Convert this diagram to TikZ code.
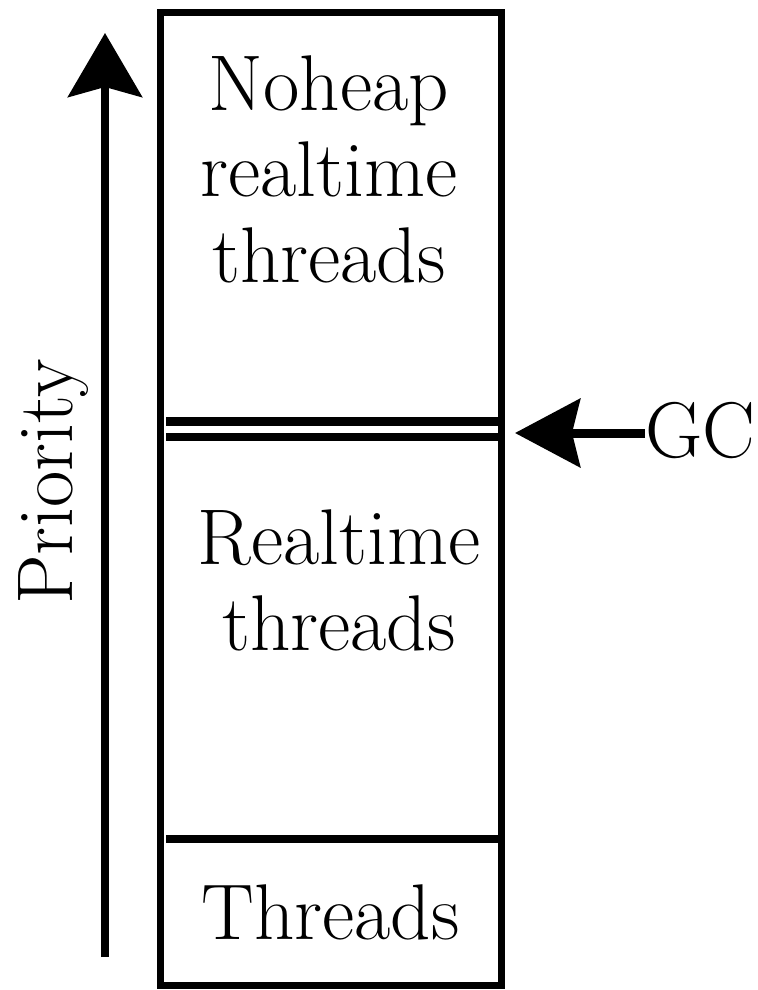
\documentclass[tikz,border=0pt]{standalone}
\usetikzlibrary{arrows.meta}
\begin{document}
\begin{tikzpicture}[x=0.5pt,y=-0.5pt,
  lbl/.style={font=\fontsize{39.5}{43}\selectfont, inner sep=0pt, align=center},
  frame/.style={line width=3.5pt},
  sep/.style={line width=4.3pt},
  prio/.style={line width=4pt, -{Stealth[length=32pt,width=37pt,inset=5pt]}},
  gcarrow/.style={line width=4.5pt, -{Stealth[length=32.5pt,width=34pt,inset=4pt]}}]
\useasboundingbox (0,0) rectangle (757,990);
% outer box
\draw[frame] (160,13) rectangle (501,985);
% separators
\draw[sep] (166,421.5) -- (501,421.5);
\draw[sep] (166,437) -- (501,437);
\draw[sep] (166,839) -- (501,839);
% labels
\node[lbl] (noheap) at (329,169.6) {Noheap\\realtime\\threads};
\node[lbl] (rt) at (339,580) {Realtime\\threads};
\node[lbl] (thr) at (330.5,912.6) {Threads};
\node[lbl, anchor=base west] (gc) at (645,457) {GC};
\node[lbl, rotate=90, anchor=base] (prio) at (72,482) {Priority};
% arrows
\coordinate (pbot) at (105,957);
\coordinate (ptop) at (105,33);
\draw[prio] (pbot) -- (ptop);
\coordinate (gctip) at (515,433);
\draw[gcarrow] (gc.west |- gctip) -- (gctip);
\end{tikzpicture}
\end{document}
